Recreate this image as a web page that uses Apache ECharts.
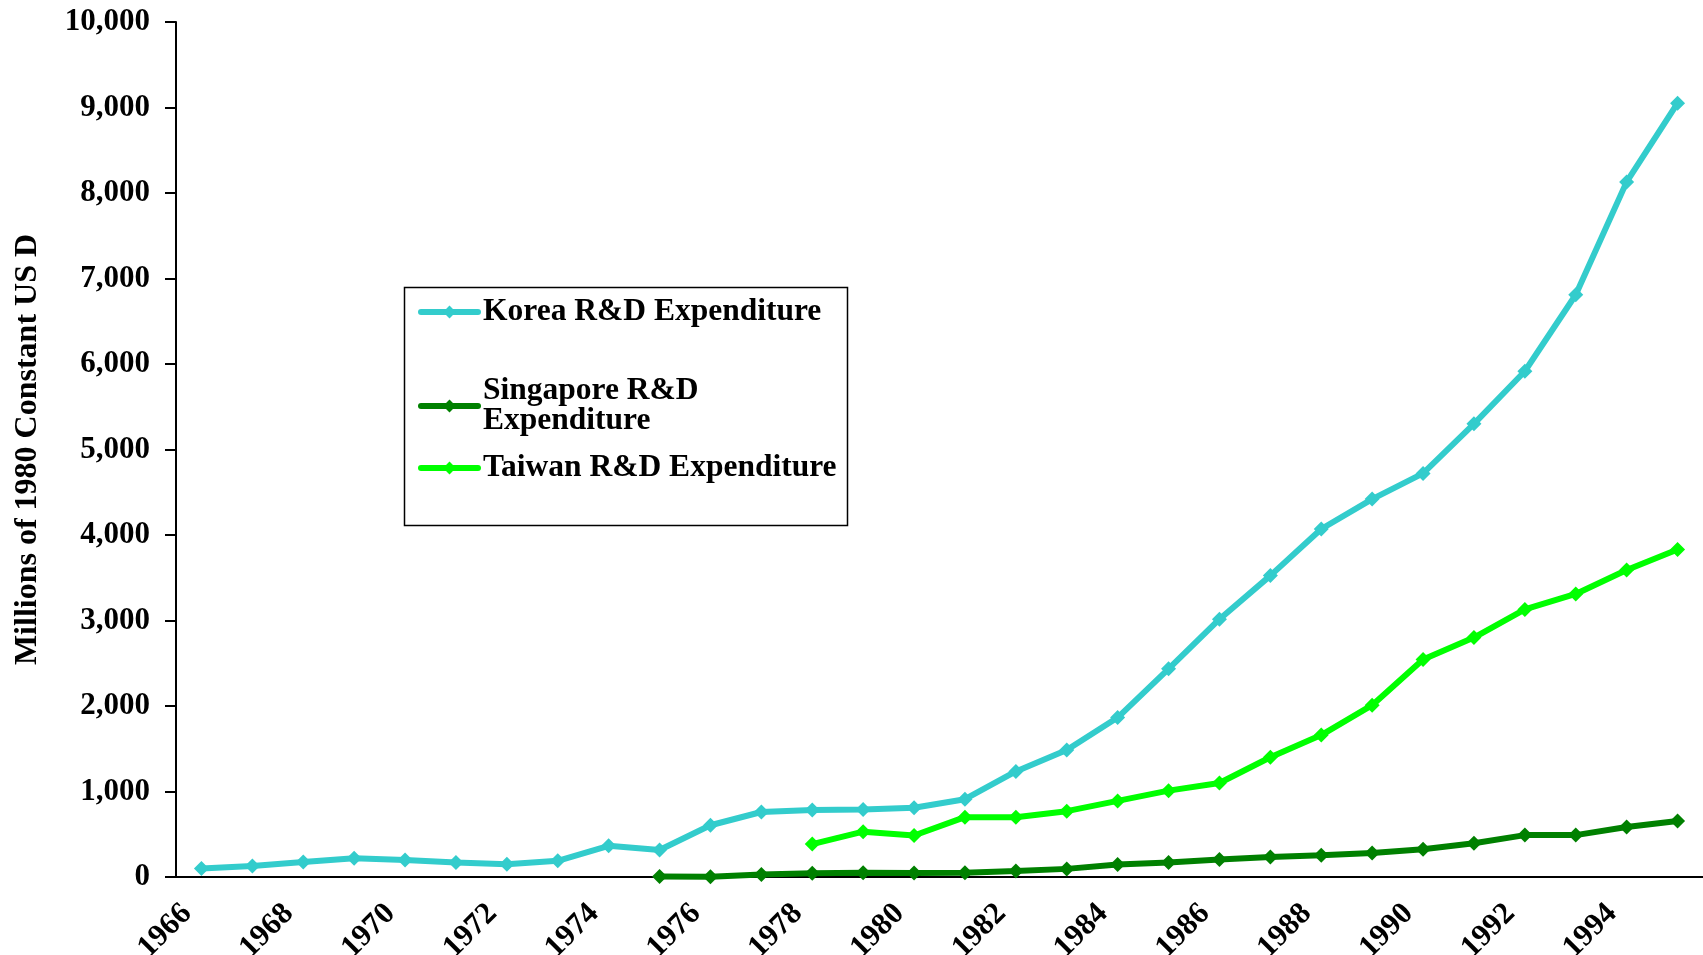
<!DOCTYPE html>
<html>
<head>
<meta charset="utf-8">
<script src="https://cdn.jsdelivr.net/npm/echarts@6/dist/echarts.min.js"></script>
<style>
  html, body { margin: 0; padding: 0; background: #fff; }
  #main { width: 1703px; height: 955px; }
</style>
</head>
<body>
<div id="main"></div>
<script>
// years on the category axis
const years = ['1966', '1967', '1968', '1969', '1970', '1971', '1972', '1973', '1974', '1975',
  '1976', '1977', '1978', '1979', '1980', '1981', '1982', '1983', '1984', '1985',
  '1986', '1987', '1988', '1989', '1990', '1991', '1992', '1993', '1994', '1995'];
// labelled years (shown at the tick marks)
const tickYears = [1966, 1968, 1970, 1972, 1974, 1976, 1978, 1980, 1982, 1984, 1986, 1988, 1990, 1992, 1994];

// millions of 1980 constant US dollars
const korea = [100, 130, 175, 220, 200, 170, 150, 190, 365, 315,
  605, 760, 785, 790, 810, 910, 1235, 1485, 1865, 2435,
  3015, 3525, 4070, 4420, 4720, 5300, 5915, 6810, 8130, 9050];
const singapore = [null, null, null, null, null, null, null, null, null, 5,
  3, 30, 45, 50, 47, 50, 70, 95, 145, 170,
  205, 235, 255, 280, 325, 395, 490, 490, 585, 655];
const taiwan = [null, null, null, null, null, null, null, null, null, null,
  null, null, 385, 530, 485, 700, 700, 770, 890, 1010,
  1100, 1400, 1660, 2010, 2545, 2800, 3130, 3310, 3590, 3830];

const font = 'Liberation Serif';
const legendText = { fontSize: 31.5, fontWeight: 'bold', fontFamily: font, color: '#000', lineHeight: 30 };

let myChart = echarts.init(document.getElementById('main'));

function lineSeries(name, data, color) {
  return {
    name: name,
    type: 'line',
    data: data,
    xAxisIndex: 0,
    symbol: 'diamond',
    symbolSize: 15,
    lineStyle: { width: 6, color: color },
    itemStyle: { color: color },
    emphasis: { disabled: true }
  };
}

function legendFor(item, top) {
  return {
    data: [item],
    left: 418,
    top: top,
    orient: 'vertical',
    padding: 0,
    itemWidth: 57,
    itemHeight: 16,
    selectedMode: false,
    lineStyle: { width: 6, cap: 'round' },
    textStyle: legendText
  };
}

myChart.setOption({
  animation: false,
  backgroundColor: '#fff',
  textStyle: { fontFamily: font },
  grid: { left: 176, right: 0, top: 22, bottom: 78, containLabel: false, outerBoundsMode: 'none' },
  graphic: [{
    type: 'rect',
    left: 402,
    top: 285,
    shape: { width: 443, height: 238 },
    style: { fill: 'none', stroke: '#000', lineWidth: 1.5 }
  }],
  legend: [
    legendFor('Korea R&D Expenditure', 296),
    legendFor({
      name: 'Singapore R&D Expenditure',
      textStyle: { width: 260, overflow: 'break', padding: [30, 0, 0, 0] }
    }, 361),
    legendFor('Taiwan R&D Expenditure', 452)
  ],
  xAxis: [{
    type: 'category',
    data: years,
    boundaryGap: true,
    axisLine: { lineStyle: { color: '#000', width: 2 } },
    axisTick: { interval: 0, length: 8, lineStyle: { color: '#000', width: 2 } },
    axisLabel: { show: false },
    splitLine: { show: false }
  }, {
    // label axis: puts the year text at the tick marks
    type: 'value',
    position: 'bottom',
    min: 1966,
    max: 1996,
    interval: 2,
    axisLine: { show: false },
    axisTick: { show: false },
    splitLine: { show: false },
    axisLabel: {
      rotate: 45,
      verticalAlign: 'top',
      margin: 21,
      fontSize: 31,
      fontWeight: 'bold',
      fontFamily: font,
      color: '#000',
      formatter: function (v) {
        return tickYears.indexOf(v) >= 0 ? String(v) : '';
      }
    }
  }],
  yAxis: {
    type: 'value',
    min: 0,
    max: 10000,
    interval: 1000,
    name: 'Millions of 1980 Constant US Dollars',
    nameLocation: 'middle',
    nameRotate: 90,
    nameGap: 132,
    nameTruncate: { maxWidth: 440, ellipsis: '' },
    nameTextStyle: { fontSize: 32, fontWeight: 'bold', fontFamily: font, color: '#000' },
    axisLine: { show: true, lineStyle: { color: '#000', width: 2 } },
    axisTick: { show: true, length: 11, lineStyle: { color: '#000', width: 2 } },
    axisLabel: { margin: 26, fontSize: 31, fontWeight: 'bold', fontFamily: font, color: '#000' },
    splitLine: { show: false }
  },
  series: [
    lineSeries('Korea R&D Expenditure', korea, '#33CCCC'),
    lineSeries('Singapore R&D Expenditure', singapore, '#008000'),
    lineSeries('Taiwan R&D Expenditure', taiwan, '#00FF00')
  ]
});
</script>
</body>
</html>
